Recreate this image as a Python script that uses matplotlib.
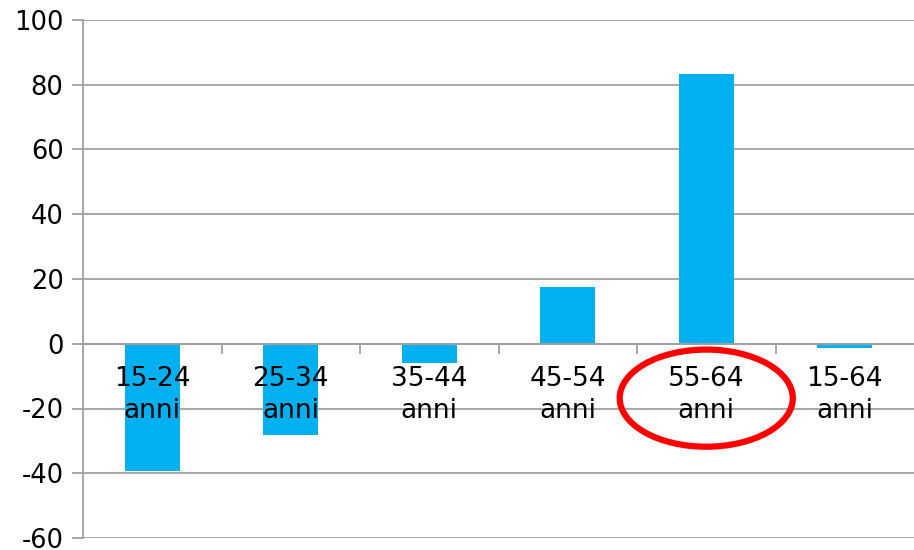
import matplotlib.pyplot as plt
from matplotlib.patches import Ellipse

# chart data
categories = ['15-24\nanni', '25-34\nanni', '35-44\nanni', '45-54\nanni', '55-64\nanni', '15-64\nanni']
values = [-39.4, -28.2, -5.8, 17.6, 83.4, -1.2]
highlight = 4  # the circled category

plt.rcParams['axes.unicode_minus'] = False

fig = plt.figure(figsize=(9.14, 5.5), dpi=100)
ax = fig.add_axes([83 / 914, 1 - 538 / 550, 1 - 83 / 914, (538 - 20) / 550])

grey = '#a0a0a0'
x = list(range(len(categories)))
ax.bar(x, values, width=0.4, color='#00b0f0', zorder=2)

ax.set_xlim(-0.5, len(categories) - 0.5)
ax.set_ylim(-60, 100)
ax.set_yticks(range(-60, 101, 20))
ax.yaxis.grid(True, color=grey, lw=1.3, zorder=0)
ax.tick_params(axis='y', length=8, width=1.3, color=grey, labelsize=18.5, pad=6)

# bottom spine sits on zero, category ticks at the boundaries
ax.spines['bottom'].set_position(('data', 0))
ax.spines['bottom'].set_color(grey)
ax.spines['bottom'].set_linewidth(1.3)
ax.spines['left'].set_color(grey)
ax.spines['left'].set_linewidth(1.3)
ax.spines['top'].set_visible(False)
ax.spines['right'].set_visible(False)
ax.set_xticks([i + 0.5 for i in x[:-1]])
ax.set_xticklabels([])
ax.tick_params(axis='x', length=7, width=1.3, color=grey)

for i, lab in zip(x, categories):
    ax.annotate(lab, (i, 0), xytext=(0, -16), textcoords='offset points',
                ha='center', va='top', fontsize=19, linespacing=1.3, zorder=3)

ax.add_patch(Ellipse((highlight, -16.8), 1.25, 30, fill=False, ec='#ff0000',
                     lw=4.5, clip_on=False, zorder=4))

fig.savefig('out.png', dpi=100)
